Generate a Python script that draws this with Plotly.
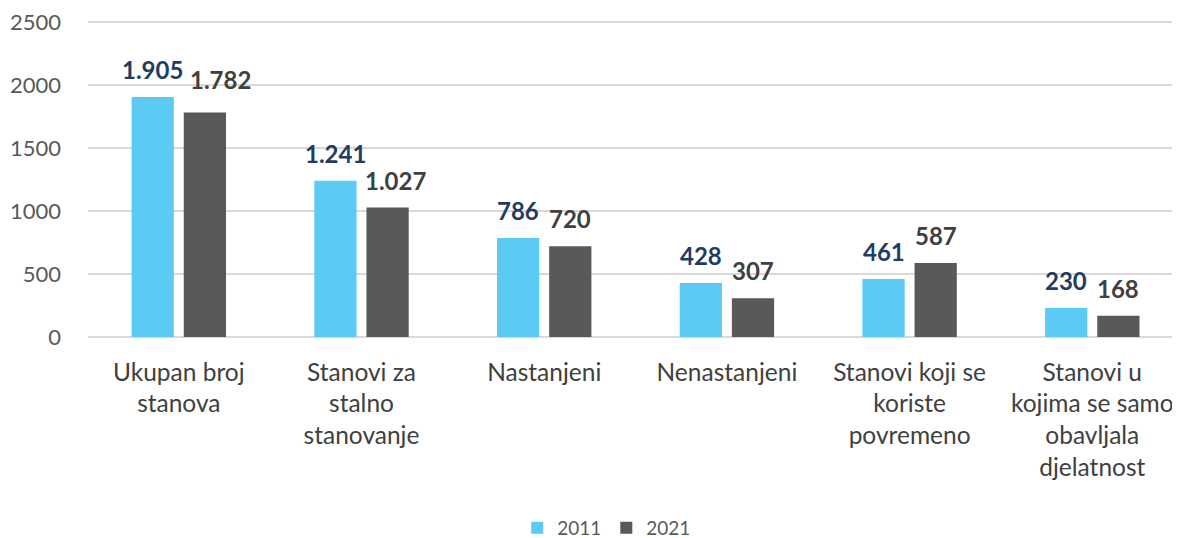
import plotly.graph_objects as go

categories = [
    "Ukupan broj<br>stanova",
    "Stanovi za<br>stalno<br>stanovanje",
    "Nastanjeni",
    "Nenastanjeni",
    "Stanovi koji se<br>koriste<br>povremeno",
    "Stanovi u<br>kojima se samo<br>obavljala<br>djelatnost",
]
values_2011 = [1905, 1241, 786, 428, 461, 230]
values_2021 = [1782, 1027, 720, 307, 587, 168]
series_names = ["2011", "2021"]
y_ticks = [0, 500, 1000, 1500, 2000, 2500]

FONT = "Lato, 'Source Sans Pro', 'Noto Sans', sans-serif"
BLUE = "#5BCBF5"
GRAY = "#595959"
LABEL_BLUE = "#1F3D63"
LABEL_GRAY = "#404040"

# label nudges (pixels) for labels moved to avoid overlap: (series, category) -> (dx, dy)
LABEL_NUDGE = {(1, 0): (16, 5), (1, 1): (8, 0)}


def fmt(v):
    return f"{v:,}".replace(",", ".")


fig = go.Figure()
fig.add_trace(go.Bar(x=categories, y=values_2011, name=series_names[0],
                     marker=dict(color=BLUE, line=dict(width=0))))
fig.add_trace(go.Bar(x=categories, y=values_2021, name=series_names[1],
                     marker=dict(color=GRAY, line=dict(width=0))))

annotations = []
for s, (vals, shift, col) in enumerate([(values_2011, -26, LABEL_BLUE),
                                        (values_2021, 26, LABEL_GRAY)]):
    for i, (c, v) in enumerate(zip(categories, vals)):
        dx, dy = LABEL_NUDGE.get((s, i), (0, 0))
        annotations.append(dict(
            x=c, y=v, text=fmt(v), showarrow=False, xshift=shift + dx, yshift=11 + dy,
            yanchor="bottom", xanchor="center",
            font=dict(family=FONT, size=24, color=col, weight="bold"),
        ))

# page body has an 8px margin; size the figure so it fits the 1180x538 window
fig.update_layout(
    width=1172, height=530,
    margin=dict(l=80, r=0, t=11, b=201, autoexpand=False),
    paper_bgcolor="white", plot_bgcolor="white",
    barmode="group", bargap=0.429, bargroupgap=0.19,
    font=dict(family=FONT, color="#595959"),
    annotations=annotations,
    legend=dict(orientation="h", x=0.475, xanchor="center", y=-0.60, yanchor="middle",
                font=dict(family=FONT, size=19, color="#595959"),
                itemwidth=30, traceorder="normal"),
    xaxis=dict(range=[-0.497, 5.48], showgrid=False, zeroline=False, showline=False,
               ticks="", ticklabelstandoff=18, ticklabeloverflow="allow",
               tickfont=dict(family=FONT, size=24.5, color="#404040")),
    yaxis=dict(range=[0, 2524], tickvals=y_ticks, showgrid=True, gridcolor="#D9D9D9",
               gridwidth=1.5, zeroline=True, zerolinecolor="#D9D9D9", zerolinewidth=1.5,
               showline=False, ticks="", ticklabelstandoff=26, ticklabeloverflow="allow",
               tickfont=dict(family=FONT, size=22, color="#595959")),
)

fig.write_html("out.html")
